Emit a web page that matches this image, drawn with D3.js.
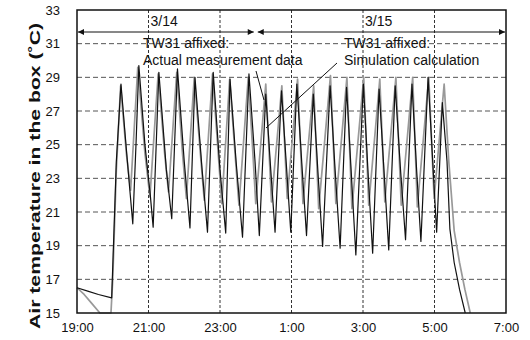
<!DOCTYPE html>
<html>
<head>
<meta charset="utf-8">
<script src="https://cdn.jsdelivr.net/npm/d3@7"></script>
<style>
  body { margin: 0; background: #fff; }
  text { font-family: "Liberation Sans", Arial, sans-serif; }
</style>
</head>
<body>
<div id="container"></div>
<script>
// hours after 19:00 on 3/14, temperature in the box
const actual = [
  [0,16.5],[0.3,16.3],[0.6,16.1],[0.97,15.9],[1.02,19],[1.1,24],[1.23,28.6],[1.35,25.5],[1.47,22.5],[1.56,20.3],
  [1.65,25],[1.73,29.7],[1.9,25],[2.05,22],[2.13,20.1],
  [2.29,29.3],[2.5,23.5],[2.65,20.6],
  [2.81,29.5],[3.0,24],[3.16,20.05],
  [3.3,29.0],[3.5,23.5],[3.65,19.8],
  [3.81,29.3],[4.0,23.5],[4.16,19.75],
  [4.28,28.9],[4.45,24],[4.63,19.5],
  [4.81,29.2],[4.98,24],[5.1,19.6],
  [5.28,28.0],[5.42,23.5],[5.54,19.8],
  [5.72,28.2],[5.85,24],[5.98,19.8],
  [6.15,28.6],[6.3,23.5],[6.42,19.6],
  [6.61,28.0],[6.75,23],[6.87,18.95],
  [7.08,28.5],[7.22,23.5],[7.36,18.85],
  [7.54,28.4],[7.68,23],[7.8,18.45],
  [8.01,28.6],[8.15,23],[8.27,18.55],
  [8.45,28.3],[8.6,23],[8.72,18.75],
  [8.9,28.5],[9.05,23.5],[9.19,19.35],
  [9.37,28.6],[9.5,23.5],[9.62,19.25],
  [9.82,29.0],[9.95,24],[10.06,19.8],
  [10.22,27.5],[10.35,24.0],[10.43,20.0],[10.55,18.0],[10.7,16.4],[10.86,15]
];

const simulation = [
  [0,16.5],[0.2,16.1],[0.4,15.6],[0.64,15.0],[0.95,15.0],[1.0,17],[1.1,23.5],[1.22,28.5],[1.38,24.5],[1.5,22.3],
  [1.7,29.6],[1.9,24.5],[2.04,21.9],
  [2.27,29.2],[2.45,24.5],[2.56,22.2],
  [2.79,29.3],[2.95,24.5],[3.06,21.8],
  [3.28,29.0],[3.45,24.5],[3.56,21.7],
  [3.79,29.2],[3.95,24.5],[4.05,21.5],
  [4.27,28.9],[4.42,24.5],[4.53,21.4],
  [4.79,29.0],[4.92,24.5],[5.0,21.5],
  [5.28,28.6],[5.44,21.6],
  [5.73,28.5],[5.88,21.8],
  [6.17,28.9],[6.32,21.5],
  [6.62,28.5],[6.76,21.2],
  [7.09,29.1],[7.24,21.5],
  [7.55,29.0],[7.69,21.2],
  [8.02,29.0],[8.16,21.4],
  [8.47,28.9],[8.61,21.6],
  [8.92,29.0],[9.07,21.4],
  [9.39,29.0],[9.52,21.3],
  [9.84,29.0],[9.99,21.8],
  [10.27,28.6],[10.4,24],[10.55,19.9],[10.7,18],[10.85,16.4],[11.0,15]
];

const xTicks = [0, 2, 4, 6, 8, 10, 12];
const xTickLabels = ["19:00", "21:00", "23:00", "1:00", "3:00", "5:00", "7:00"];
const yTicks = [15, 17, 19, 21, 23, 25, 27, 29, 31, 33];
const days = [
  { label: "3/14", start: 0, end: 5 },
  { label: "3/15", start: 5, end: 12 }
];

const width = 530;
const height = 340;
const margin = { top: 10, right: 24, bottom: 27, left: 77 };

const xScale = d3.scaleLinear()
  .domain([0, 12])
  .range([margin.left, width - margin.right]);

const yScale = d3.scaleLinear()
  .domain([15, 33])
  .range([height - margin.bottom, margin.top]);

const svg = d3.select("#container")
  .append("svg")
  .attr("width", width)
  .attr("height", height);

svg.append("defs").append("marker")
  .attr("id", "arrow")
  .attr("viewBox", "0 0 10 10")
  .attr("refX", 10).attr("refY", 5)
  .attr("markerWidth", 10).attr("markerHeight", 6)
  .attr("markerUnits", "userSpaceOnUse")
  .attr("orient", "auto-start-reverse")
  .append("path")
  .attr("d", "M0,0L10,5L0,10Z")
  .attr("fill", "#111");

// horizontal dashed grid
svg.append("g")
  .selectAll("line")
  .data(yTicks.slice(1, -1))
  .join("line")
  .attr("x1", xScale(0)).attr("x2", xScale(12))
  .attr("y1", d => yScale(d)).attr("y2", d => yScale(d))
  .attr("stroke", "#555")
  .attr("stroke-width", 1)
  .attr("stroke-dasharray", "5,3");

// vertical dotted grid
svg.append("g")
  .selectAll("line")
  .data(xTicks.slice(1, -1))
  .join("line")
  .attr("x1", d => xScale(d)).attr("x2", d => xScale(d))
  .attr("y1", yScale(15)).attr("y2", yScale(33))
  .attr("stroke", "#333")
  .attr("stroke-width", 1)
  .attr("stroke-dasharray", "3,2");

// day band with arrows
const bandY = 32;
svg.append("g")
  .selectAll("line")
  .data(days)
  .join("line")
  .attr("x1", d => xScale(d.start) + (d.start > 0 ? 2 : 1))
  .attr("x2", d => xScale(d.end) - (d.end < 12 ? 2 : 1))
  .attr("y1", bandY).attr("y2", bandY)
  .attr("stroke", "#111")
  .attr("stroke-width", 1)
  .attr("marker-start", "url(#arrow)")
  .attr("marker-end", "url(#arrow)");

svg.append("g")
  .selectAll("text")
  .data(days)
  .join("text")
  .attr("x", (d, i) => xScale(i === 0 ? 2 : 8) + 2)
  .attr("y", 26)
  .attr("font-size", 14)
  .attr("fill", "#111")
  .text(d => d.label);

// lines
const line = d3.line()
  .x(d => xScale(d[0]))
  .y(d => yScale(d[1]));

svg.append("path")
  .datum(simulation)
  .attr("fill", "none")
  .attr("stroke", "#999")
  .attr("stroke-width", 1.7)
  .attr("stroke-linejoin", "round")
  .attr("d", line);

svg.append("path")
  .datum(actual)
  .attr("fill", "none")
  .attr("stroke", "#111")
  .attr("stroke-width", 1.2)
  .attr("stroke-linejoin", "round")
  .attr("d", line);

// annotations
const notes = svg.append("g").attr("font-size", 14).attr("fill", "#111");
notes.append("text").attr("x", 143).attr("y", 48).text("TW31 affixed:");
notes.append("text").attr("x", 143).attr("y", 65).text("Actual measurement data");
notes.append("text").attr("x", 344).attr("y", 48).text("TW31 affixed:");
notes.append("text").attr("x", 344).attr("y", 65).text("Simulation calculation");

svg.append("line")
  .attr("x1", 256).attr("y1", 71).attr("x2", 264).attr("y2", 100)
  .attr("stroke", "#111").attr("stroke-width", 1);
svg.append("line")
  .attr("x1", 337).attr("y1", 63).attr("x2", 266).attr("y2", 128)
  .attr("stroke", "#111").attr("stroke-width", 1);

// frame
svg.append("rect")
  .attr("x", xScale(0)).attr("y", yScale(33))
  .attr("width", xScale(12) - xScale(0))
  .attr("height", yScale(15) - yScale(33))
  .attr("fill", "none")
  .attr("stroke", "#111")
  .attr("stroke-width", 1.5);

// axes
const xAxis = g => g
  .call(d3.axisBottom(xScale).tickValues(xTicks).tickSize(0).tickPadding(10)
    .tickFormat((d, i) => xTickLabels[i]))
  .call(g => g.select(".domain").remove());

svg.append("g")
  .attr("transform", `translate(0,${yScale(15)})`)
  .call(xAxis)
  .selectAll("text")
  .attr("font-size", 13)
  .attr("fill", "#111");

const yAxis = g => g
  .call(d3.axisLeft(yScale).tickValues(yTicks).tickSize(0).tickPadding(17))
  .call(g => g.select(".domain").remove());

svg.append("g")
  .attr("transform", `translate(${xScale(0)},0)`)
  .call(yAxis)
  .selectAll("text")
  .attr("font-size", 13)
  .attr("fill", "#111");

svg.selectAll(".tick text").attr("font-family", "'Liberation Sans', Arial, sans-serif");

svg.append("text")
  .attr("transform", "translate(40,176) rotate(-90)")
  .attr("text-anchor", "middle")
  .attr("font-size", 15.5)
  .attr("font-weight", "bold")
  .attr("fill", "#111")
  .attr("textLength", 306)
  .attr("lengthAdjust", "spacingAndGlyphs")
  .text("Air temperature in the box (˚C)");
</script>
</body>
</html>
